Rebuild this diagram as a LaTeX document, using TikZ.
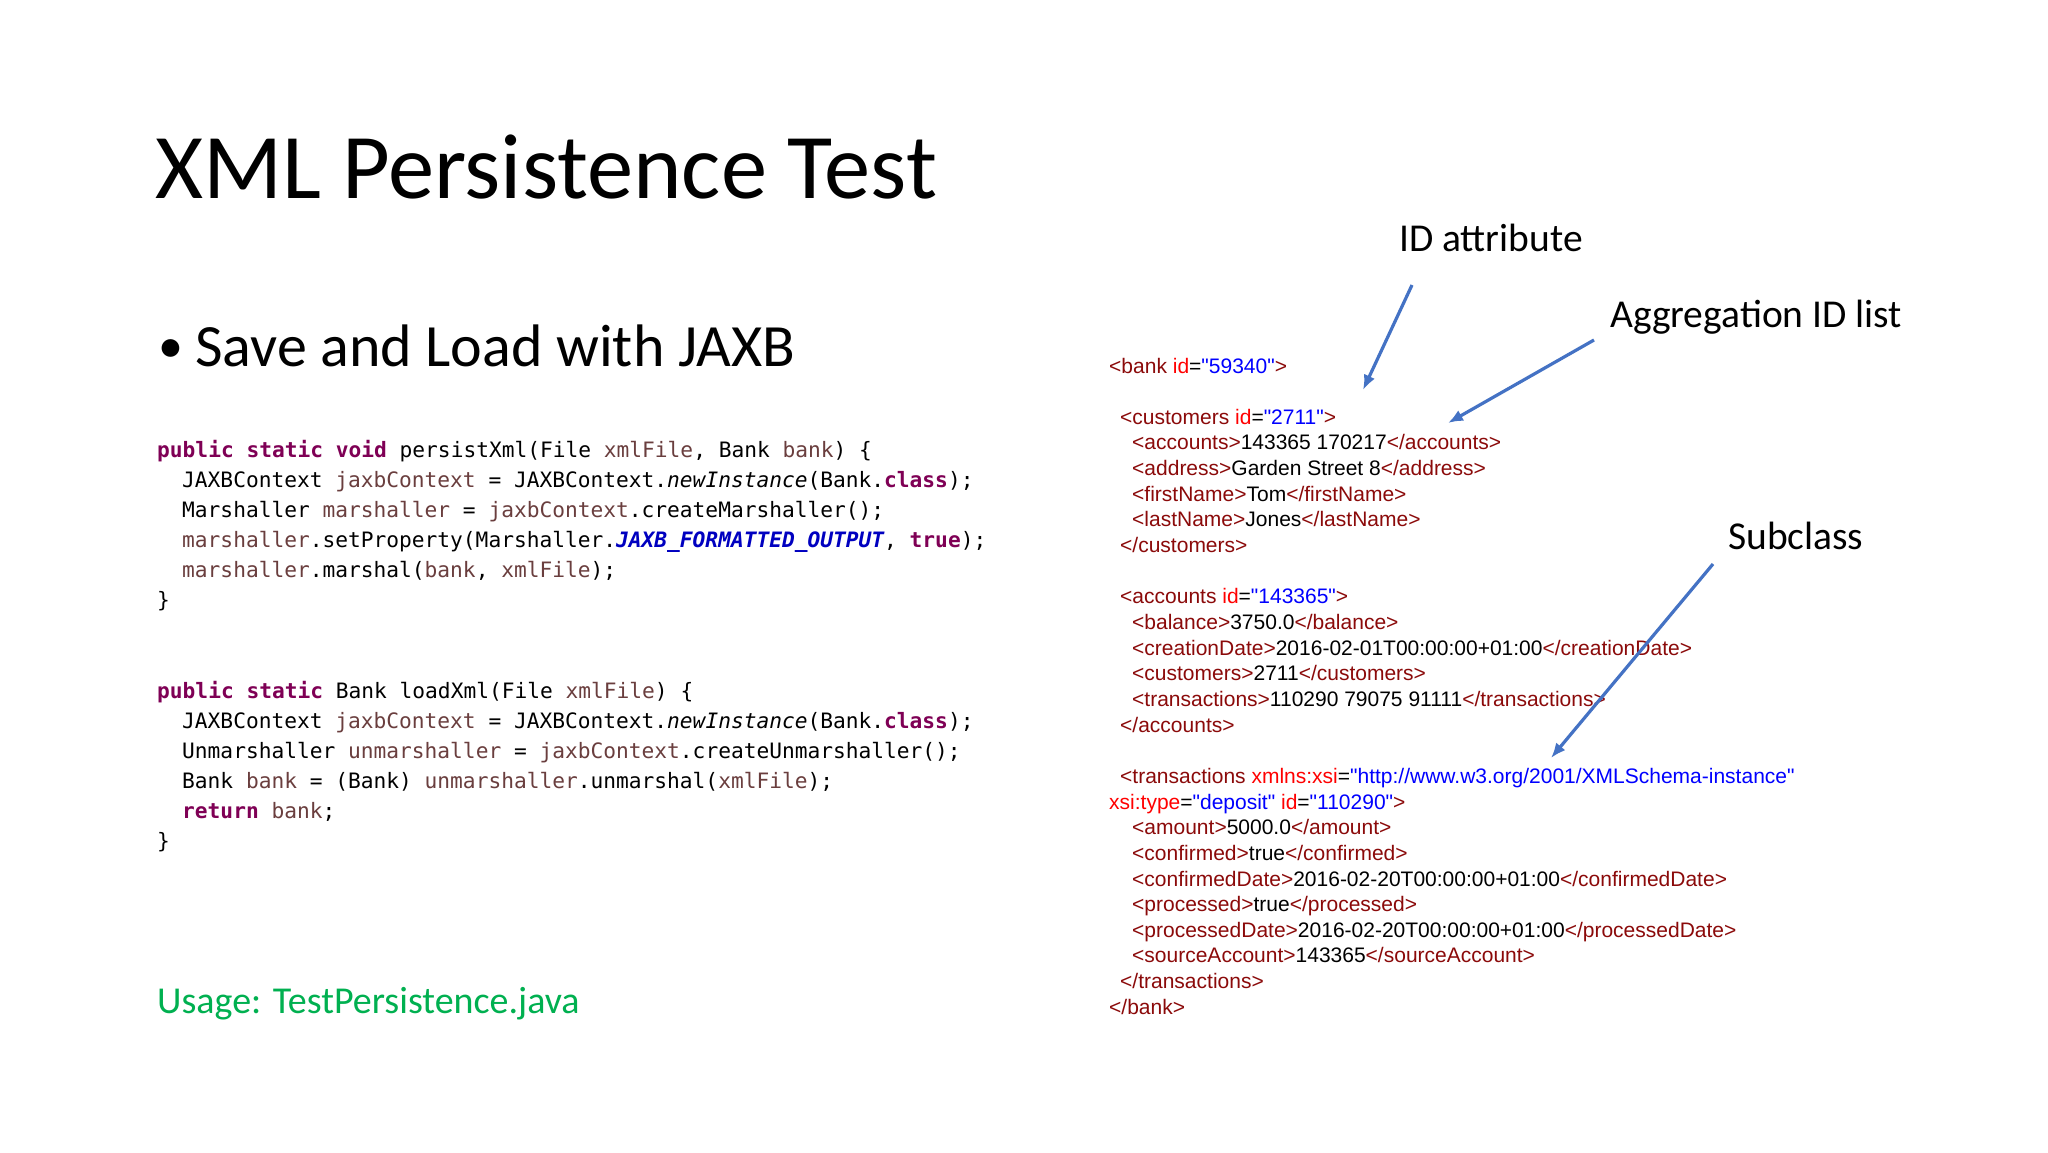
\documentclass[tikz,border=0pt]{standalone}
\usepackage{fontspec}
\setmainfont{Carlito}
\newfontfamily\codefont{DejaVu Sans Mono}
\newfontfamily\xmlfont{Liberation Sans}
\definecolor{kwc}{HTML}{7F0055}
\definecolor{vrc}{HTML}{6A3E3E}
\definecolor{cnc}{HTML}{0000C0}
\definecolor{tgc}{HTML}{8B0A0A}
\definecolor{atc}{HTML}{FF0000}
\definecolor{vlc}{HTML}{0000FF}
\definecolor{arc}{HTML}{4472C4}
\definecolor{usc}{HTML}{00B050}
\newcommand{\kw}[1]{\textcolor{kwc}{\bfseries #1}}
\newcommand{\vr}[1]{\textcolor{vrc}{#1}}
\newcommand{\cn}[1]{\textcolor{cnc}{\bfseries\itshape #1}}
\newcommand{\tg}[1]{\textcolor{tgc}{#1}}
\newcommand{\at}[1]{\textcolor{atc}{#1}}
\newcommand{\vl}[1]{\textcolor{vlc}{#1}}
\begin{document}
\begin{tikzpicture}[x=1pt,y=-1pt,
  txt/.style={anchor=base west,inner sep=0pt},
  code/.style={txt,font=\codefont\fontsize{21.2}{24}\selectfont},
  xml/.style={txt,font=\xmlfont\fontsize{21}{24}\selectfont},
  note/.style={txt,font=\fontsize{39.5}{48}\selectfont},
  arr/.style={draw=arc,line width=3.2pt,-{Latex[length=15pt,width=12pt]}}]
\usetikzlibrary{arrows.meta}
\fill[white] (0,0) rectangle (2048,1152);
\useasboundingbox (0,0) rectangle (2048,1152);
\node[txt,font=\fontsize{92.5}{110}\selectfont] (title) at (155,198) {XML Persistence Test};
\node[txt,font=\fontsize{50}{60}\selectfont] (bul) at (158,362) {•};
\node[txt,font=\fontsize{60}{72}\selectfont] (sub) at (195,366) {Save and Load with JAXB};
% code
\node[code] (c1) at (157,457) {\kw{public static void} persistXml(File \vr{xmlFile}, Bank \vr{bank}) \{};
\node[code] (c2) at (182,487) {JAXBContext \vr{jaxbContext} = JAXBContext.\textit{newInstance}(Bank.\kw{class});};
\node[code] (c3) at (182,517) {Marshaller \vr{marshaller} = \vr{jaxbContext}.createMarshaller();};
\node[code] (c4) at (182,547) {\vr{marshaller}.setProperty(Marshaller.\cn{JAXB\_FORMATTED\_OUTPUT}, \kw{true});};
\node[code] (c5) at (182,577) {\vr{marshaller}.marshal(\vr{bank}, \vr{xmlFile});};
\node[code] (c6) at (157,607) {\}};
\node[code] (d1) at (157,698) {\kw{public static} Bank loadXml(File \vr{xmlFile}) \{};
\node[code] (d2) at (182,728) {JAXBContext \vr{jaxbContext} = JAXBContext.\textit{newInstance}(Bank.\kw{class});};
\node[code] (d3) at (182,758) {Unmarshaller \vr{unmarshaller} = \vr{jaxbContext}.createUnmarshaller();};
\node[code] (d4) at (182,788) {Bank \vr{bank} = (Bank) \vr{unmarshaller}.unmarshal(\vr{xmlFile});};
\node[code] (d5) at (182,818) {\kw{return} \vr{bank};};
\node[code] (d6) at (157,848) {\}};
\node[txt,font=\fontsize{38}{44}\selectfont,text=usc] (usage) at (157,1013) {Usage: TestPersistence.java};
% xml
\def\L#1{373+25.65*#1}
\node[xml] (x0) at (1109,{\L{0}}) {\tg{<bank }\at{id}=\vl{"59340"}\tg{>}};
\node[xml] (x2) at (1120,{\L{2}}) {\tg{<customers }\at{id}=\vl{"2711"}\tg{>}};
\node[xml] (x3) at (1132,{\L{3}}) {\tg{<accounts>}143365 170217\tg{</accounts>}};
\node[xml] (x4) at (1132,{\L{4}}) {\tg{<address>}Garden Street 8\tg{</address>}};
\node[xml] (x5) at (1132,{\L{5}}) {\tg{<firstName>}Tom\tg{</firstName>}};
\node[xml] (x6) at (1132,{\L{6}}) {\tg{<lastName>}Jones\tg{</lastName>}};
\node[xml] (x7) at (1120,{\L{7}}) {\tg{</customers>}};
\node[xml] (x9) at (1120,{\L{9}}) {\tg{<accounts }\at{id}=\vl{"143365"}\tg{>}};
\node[xml] (x10) at (1132,{\L{10}}) {\tg{<balance>}3750.0\tg{</balance>}};
\node[xml] (x11) at (1132,{\L{11}}) {\tg{<creationDate>}2016-02-01T00:00:00+01:00\tg{</creationDate>}};
\node[xml] (x12) at (1132,{\L{12}}) {\tg{<customers>}2711\tg{</customers>}};
\node[xml] (x13) at (1132,{\L{13}}) {\tg{<transactions>}110290 79075 91111\tg{</transactions>}};
\node[xml] (x14) at (1120,{\L{14}}) {\tg{</accounts>}};
\node[xml] (x16) at (1120,{\L{16}}) {\tg{<transactions }\at{xmlns:xsi}=\vl{"http://www.w3.org/2001/XMLSchema-instance"}};
\node[xml] (x17) at (1109,{\L{17}}) {\at{xsi:type}=\vl{"deposit"} \at{id}=\vl{"110290"}\tg{>}};
\node[xml] (x18) at (1132,{\L{18}}) {\tg{<amount>}5000.0\tg{</amount>}};
\node[xml] (x19) at (1132,{\L{19}}) {\tg{<confirmed>}true\tg{</confirmed>}};
\node[xml] (x20) at (1132,{\L{20}}) {\tg{<confirmedDate>}2016-02-20T00:00:00+01:00\tg{</confirmedDate>}};
\node[xml] (x21) at (1132,{\L{21}}) {\tg{<processed>}true\tg{</processed>}};
\node[xml] (x22) at (1132,{\L{22}}) {\tg{<processedDate>}2016-02-20T00:00:00+01:00\tg{</processedDate>}};
\node[xml] (x23) at (1132,{\L{23}}) {\tg{<sourceAccount>}143365\tg{</sourceAccount>}};
\node[xml] (x24) at (1120,{\L{24}}) {\tg{</transactions>}};
\node[xml] (x25) at (1109,{\L{25}}) {\tg{</bank>}};
% notes
\node[note] (n1) at (1399,251) {ID attribute};
\node[note] (n2) at (1610,327) {Aggregation ID list};
\node[note] (n3) at (1728,549) {Subclass};
\coordinate (a1s) at (1412,285); \coordinate (a1e) at (1363,390);
\coordinate (a2s) at (1594,340); \coordinate (a2e) at (1448,423);
\coordinate (a3s) at (1713,564); \coordinate (a3e) at (1551,758);
\draw[arr] (a1s) -- (a1e);
\draw[arr] (a2s) -- (a2e);
\draw[arr] (a3s) -- (a3e);
\end{tikzpicture}
\end{document}
